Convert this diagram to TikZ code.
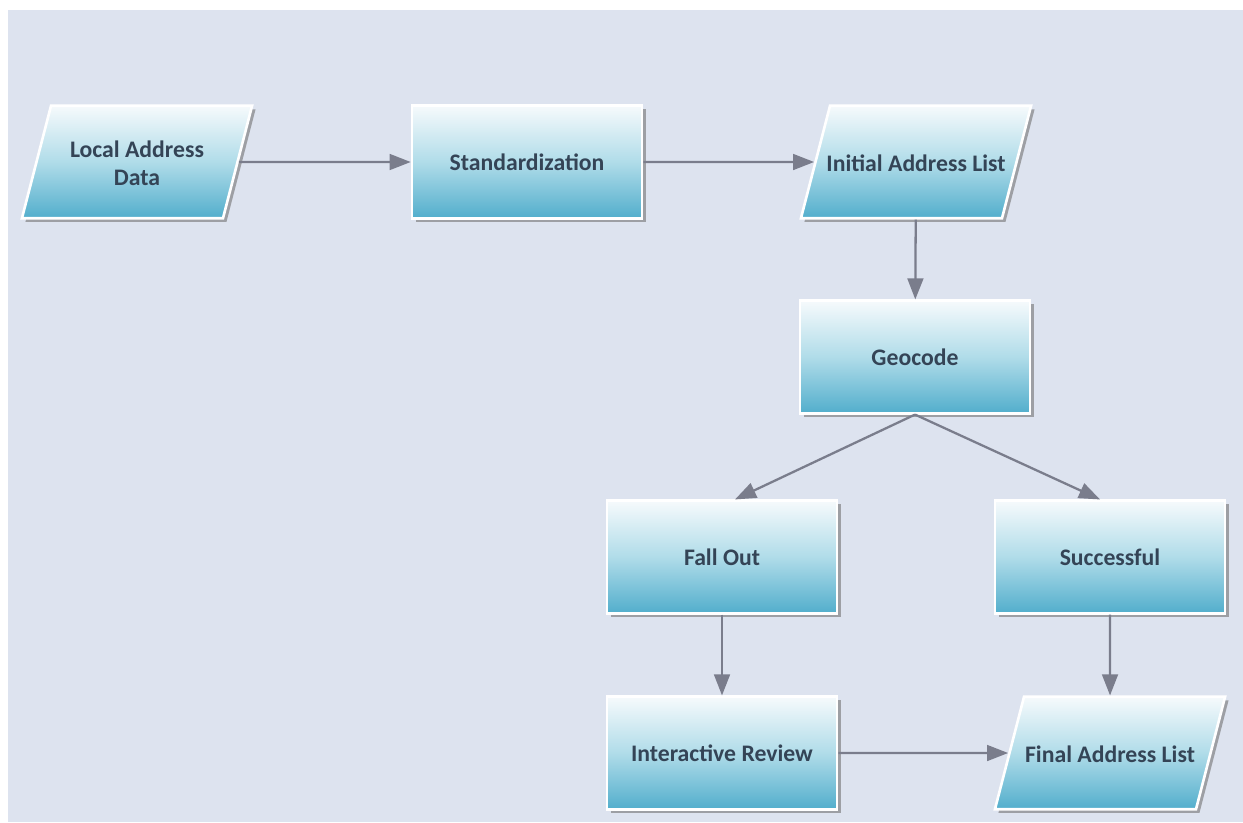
\documentclass[tikz,border=0pt]{standalone}
\usepackage{fontspec}
\setmainfont{Carlito}
\usetikzlibrary{shapes.geometric,arrows.meta,shadows}
\definecolor{bgblue}{RGB}{221,227,239}
\definecolor{boxtop}{RGB}{246,250,252}
\definecolor{boxmid}{RGB}{176,220,233}
\definecolor{boxbot}{RGB}{82,174,204}
\definecolor{boxtext}{RGB}{52,68,86}
\definecolor{linkgray}{RGB}{122,125,140}
% text block of fixed size for the slanted data boxes
\newcommand{\datatext}[1]{\parbox[c][2.25cm][c]{3.44cm}{\centering\vspace*{4.5pt}
    \makebox[3.44cm]{\begin{tabular}{@{}c@{}}#1\end{tabular}}}}

\begin{document}
\begin{tikzpicture}[x=0.02cm,y=-0.02cm,
    proc/.style={rectangle, minimum width=4.6cm, minimum height=2.25cm,
        draw=white, line width=1.5pt,
        top color=boxtop, bottom color=boxbot, middle color=boxmid,
        text=boxtext, font=\bfseries\fontsize{13.5}{16}\selectfont, align=center,
        drop shadow={shadow xshift=2pt, shadow yshift=-2pt, fill=black!55, opacity=0.6}},
    data/.style={proc, trapezium, trapezium left angle=75.5, trapezium right angle=104.5,
        minimum width=0pt, minimum height=0pt, inner sep=0pt},
    link/.style={draw=linkgray, line width=1.3pt, -{Triangle[length=12pt,width=9pt]}}]
    % background
    \useasboundingbox (0,0) rectangle (1243,822);
    \fill[white] (0,0) rectangle (1243,822);
    \fill[bgblue] (8,10) rectangle (1243,822);

    \node[data] (local) at (137,162) {\datatext{Local Address\\Data}};
    \node[proc] (std)   at (527,162) {Standardization};
    \node[data] (init)  at (916,162) {\datatext{Initial Address List}};
    \node[proc] (geo)   at (915,357) {Geocode};
    \node[proc] (fall)  at (722,557) {Fall Out};
    \node[proc] (succ)  at (1110,557) {Successful};
    \node[proc] (rev)   at (722,753) {Interactive Review};
    \node[data] (final) at (1110,753) {\datatext{Final Address List}};

    \draw[link] (local) -- (std);
    \draw[link] (std) -- (init);
    \draw[link] (init) -- (geo);
    \draw[link] (geo.south) -- ([xshift=0.26cm]fall.north);
    \draw[link] (geo.south) -- ([xshift=-0.2cm]succ.north);
    \draw[link] (fall) -- (rev);
    \draw[link] (succ) -- (final);
    \draw[link] (rev) -- (final);
\end{tikzpicture}
\end{document}
